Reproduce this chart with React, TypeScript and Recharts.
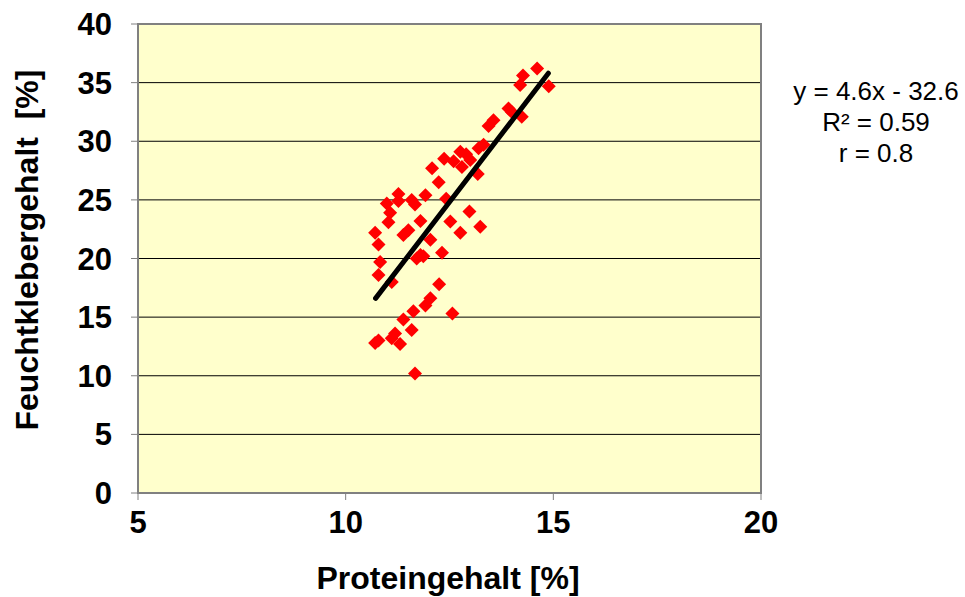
import React from "react";
import {
  ScatterChart,
  Scatter,
  XAxis,
  YAxis,
  CartesianGrid,
  ReferenceArea,
  Label,
  Customized,
} from "recharts";

// Proteingehalt [%] / Feuchtklebergehalt [%] pairs
const proteinX = [
  14.61, 14.27, 14.2, 14.89, 13.92, 14.0, 14.24, 13.56, 13.44, 13.32,
  13.2, 12.76, 12.37, 12.6, 12.8, 13.0, 13.18, 12.08, 12.24, 11.92,
  12.42, 12.98, 11.27, 10.99, 11.27, 11.59, 11.67, 11.07, 11.03, 10.71,
  11.8, 11.51, 11.39, 12.04, 10.79, 11.8, 12.32, 10.83, 11.71, 11.87,
  10.79, 11.11, 12.25, 12.04, 11.92, 11.63, 12.57, 11.39, 11.59, 10.79,
  10.71, 11.19, 11.11, 11.31, 11.67, 12.52, 12.76, 13.24, 12.9,
];
const glutenY = [
  36.2, 35.6, 34.8, 34.7, 32.8, 32.5, 32.1, 31.8, 31.3, 29.7,
  29.4, 29.1, 28.5, 28.3, 27.8, 28.4, 27.2, 27.7, 26.5, 25.4,
  25.1, 24.0, 25.5, 24.7, 24.9, 25.0, 24.6, 23.9, 23.1, 22.2,
  23.2, 22.4, 22.0, 21.6, 21.2, 20.3, 20.5, 19.7, 20.0, 20.2,
  18.6, 18.0, 17.8, 16.6, 16.0, 15.5, 15.3, 14.8, 13.9, 13.0,
  12.8, 13.6, 13.2, 12.7, 10.2, 23.15, 22.2, 22.7, 28.9,
];

// linear trend line end points
const trendX = [10.72, 14.88];
const trendY = [16.6, 35.8];

const xTicks = [5, 10, 15, 20];
const yTicks = [0, 5, 10, 15, 20, 25, 30, 35, 40];
const equationLines = ["y = 4.6x - 32.6", "R² = 0.59", "r = 0.8"];

const points = proteinX.map((x, i) => ({ x, y: glutenY[i] }));
const trend = trendX.map((x, i) => ({ x, y: trendY[i] }));

const font = "'Liberation Sans', Arial, sans-serif";

function Diamond(props: any) {
  const { cx, cy } = props;
  const r = 7;
  return (
    <path
      d={`M${cx},${cy - r}L${cx + r},${cy}L${cx},${cy + r}L${cx - r},${cy}Z`}
      fill="#FF0000"
    />
  );
}

function XTick(props: any) {
  const { x, y, payload } = props;
  return (
    <text x={x} y={y + 31} textAnchor="middle" fontFamily={font} fontWeight="bold" fontSize={31} fill="#000">
      {payload.value}
    </text>
  );
}

function YTick(props: any) {
  const { x, y, payload } = props;
  return (
    <text x={x - 17} y={y + 11} textAnchor="end" fontFamily={font} fontWeight="bold" fontSize={31} fill="#000">
      {payload.value}
    </text>
  );
}

function Equation() {
  return (
    <g>
      {equationLines.map((t, i) => (
        <text key={i} x={876} y={100 + i * 31} textAnchor="middle" fontFamily={font} fontSize={26} fill="#000">
          {t}
        </text>
      ))}
    </g>
  );
}

export default function App() {
  return (
    <div style={{ position: "fixed", left: 0, top: 0, background: "#fff" }}>
      <ScatterChart
        width={965}
        height={597}
        margin={{ top: 24, right: 204, bottom: 44, left: 78 }}
      >
        <CartesianGrid
          vertical={false}
          stroke="#000"
          strokeWidth={1}
          fill="#FFFFCC"
          fillOpacity={1}
        />
        <ReferenceArea x1={5} x2={20} y1={0} y2={40} fill="none" stroke="#808080" strokeWidth={2} />
        <XAxis
          type="number"
          dataKey="x"
          domain={[5, 20]}
          ticks={xTicks}
          height={60}
          tickSize={7}
          axisLine={{ stroke: "#808080", strokeWidth: 2 }}
          tickLine={{ stroke: "#808080" }}
          tick={<XTick />}
          allowDataOverflow
        >
          <Label
            content={() => (
              <text x={448} y={589} textAnchor="middle" fontFamily={font} fontWeight="bold" fontSize={32} fill="#000">
                Proteingehalt [%]
              </text>
            )}
          />
        </XAxis>
        <YAxis
          type="number"
          dataKey="y"
          domain={[0, 40]}
          ticks={yTicks}
          width={60}
          tickSize={7}
          axisLine={{ stroke: "#808080", strokeWidth: 2 }}
          tickLine={{ stroke: "#808080" }}
          tick={<YTick />}
          allowDataOverflow
        >
          <Label
            content={() => (
              <text
                x={38}
                y={250}
                transform="rotate(-90 38 250)"
                textAnchor="middle"
                fontFamily={font}
                fontWeight="bold"
                fontSize={32}
                fill="#000"
              >
                {"Feuchtklebergehalt\u00a0\u00a0[%]"}
              </text>
            )}
          />
        </YAxis>
        <Scatter data={points} shape={<Diamond />} isAnimationActive={false} />
        <Scatter
          data={trend}
          line={{ stroke: "#000", strokeWidth: 5, strokeLinecap: "round" }}
          shape={() => <g />}
          isAnimationActive={false}
        />
        <Customized component={Equation} />
      </ScatterChart>
    </div>
  );
}
